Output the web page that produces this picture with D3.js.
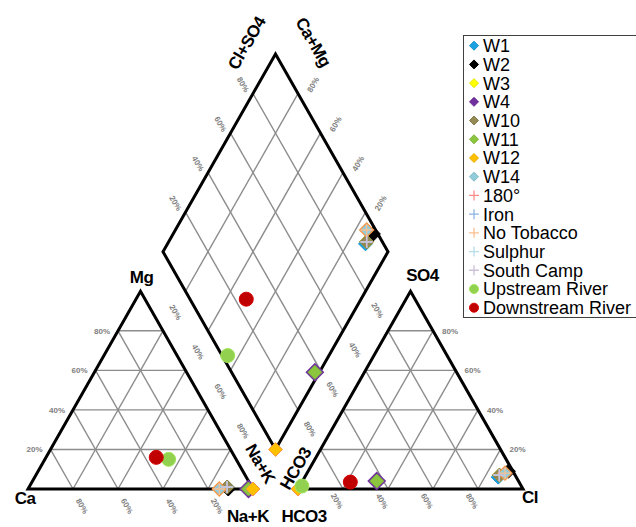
<!DOCTYPE html>
<html><head><meta charset="utf-8">
<script src="https://cdn.jsdelivr.net/npm/d3@7"></script>
<style>body{margin:0;background:#fff}svg{display:block}</style>
</head><body>
<svg id="c" width="636" height="527"></svg>
<script>
// ---- data (percent of meq) ----
const sampleNames = ["W1","W2","W3","W4","W10","W11","W12","W14","180°","Iron","No Tobacco","Sulphur","South Camp","Upstream River","Downstream River"];
const markerTypes = ["diamond","diamond","diamond","diamond","diamond","diamond","diamond","diamond","cross","cross","cross","cross","cross","circle","circle"];
const fillColors = ["#1ba1e2","#000000","#ffff00","#7030a0","#948a54","#8cc63f","#ffc000","#92cddc","#ff8b8b","#8db4e2","#fabf8f","#b7dee8","#ccc0da","#92d050","#c00000"];
const caPct   = [11, 11, 11,  2, 11,  2,   0, 15, 11, 11, 15, 11, 11, 30, 35];
const mgPct   = [ 1,  0,  1,  0,  1,  0,   0,  0,  1,  1,  0,  1,  1, 15, 16];
const naKPct  = [88, 89, 88, 98, 88, 98, 100, 85, 88, 88, 85, 88, 88, 55, 49];
const hco3Pct = [ 8,  2,  7, 63,  7, 63, 100,  4,  7,  7,  4,  7,  7, 97.5, 75];
const so4Pct  = [ 6,  9,  7,  4,  7,  4,   0,  8,  7,  7,  8,  7,  7, 1.5, 3.5];
const clPct   = [86, 89, 86, 33, 86, 33,   0, 88, 86, 86, 88, 86, 86, 1, 21.5];
const tickSteps = [20, 40, 60, 80];

// ---- geometry ----
const H = Math.sqrt(3)/2, GAP = 0.2;
const svg = d3.select("#c");
const x = d3.scaleLinear().domain([0, 2 + GAP]).range([28, 523]);
const y = d3.scaleLinear().domain([0, (2 + GAP) * H]).range([489, 54]);
const cat = (ca, mg, na) => [x(na + mg/2), y(mg*H)];
const an  = (hc, so, cl) => [x(1 + GAP + cl + so/2), y(so*H)];
const dia = (na, a) => [x(1 + GAP/2 + (a - (1 - na))/2), y(GAP*H + (a + (1 - na))*H)];
const line = d3.line();

const gGrid = svg.append("g").attr("stroke", "#8c8c8c").attr("stroke-width", 1.4).attr("fill", "none");
tickSteps.forEach(t => {
  const k = t/100;
  gGrid.append("path").attr("d", line([cat(1-k,k,0), cat(0,k,1-k)]));
  gGrid.append("path").attr("d", line([cat(k,0,1-k), cat(k,1-k,0)]));
  gGrid.append("path").attr("d", line([cat(1-k,0,k), cat(0,1-k,k)]));
  gGrid.append("path").attr("d", line([an(1-k,k,0), an(0,k,1-k)]));
  gGrid.append("path").attr("d", line([an(k,0,1-k), an(k,1-k,0)]));
  gGrid.append("path").attr("d", line([an(1-k,0,k), an(0,1-k,k)]));
  gGrid.append("path").attr("d", line([dia(k,0), dia(k,1)]));
  gGrid.append("path").attr("d", line([dia(0,k), dia(1,k)]));
});

const gOut = svg.append("g").attr("stroke", "#000").attr("stroke-width", 3).attr("fill", "none").attr("stroke-linejoin", "miter");
gOut.append("path").attr("d", line([cat(1,0,0), cat(0,0,1), cat(0,1,0)]) + "Z");
gOut.append("path").attr("d", line([an(1,0,0), an(0,0,1), an(0,1,0)]) + "Z");
gOut.append("path").attr("d", line([dia(0,0), dia(1,0), dia(1,1), dia(0,1)]) + "Z");

// ---- tick labels ----
const gT = svg.append("g").attr("font-family", "Liberation Sans, Arial, sans-serif").attr("font-size", 8)
  .attr("font-weight", "bold").attr("fill", "#808080");
function tl(p, dx, dy, txt, rot, anchor) {
  gT.append("text").attr("transform", `translate(${p[0]+dx},${p[1]+dy}) rotate(${rot})`)
    .attr("text-anchor", anchor || "middle").attr("dy", "0.35em").text(txt);
}
tickSteps.forEach(t => {
  const k = t/100;
  tl(cat(1-k,k,0), -8, 0, t + "%", 0, "end");          // Mg
  tl(cat(k,0,1-k), 9, 17, t + "%", 60);                  // Ca
  tl(an(0,k,1-k), 9, 0, t + "%", 0, "start");            // SO4
  tl(an(1-k,0,k), -6, 12, t + "%", 60);                  // Cl
  tl(dia(0,k), -10, -9, t + "%", 60);                    // Cl+SO4
  tl(dia(k,1), 15, -9, (100 - t) + "%", -60);            // Ca+Mg
  tl(dia(k,0), -10, 21, t + "%", 60);                    // Na+K
  tl(dia(1,k), 12, 19, (100 - t) + "%", 60);             // HCO3
});

// ---- axis titles ----
const gL = svg.append("g").attr("font-family", "Liberation Sans, Arial, sans-serif").attr("font-size", 17)
  .attr("font-weight", "bold").attr("fill", "#000").attr("text-anchor", "middle");
function ttl(p, dx, dy, txt, rot) {
  gL.append("text").attr("transform", `translate(${p[0]+dx},${p[1]+dy}) rotate(${rot||0})`)
    .attr("dy", "0.35em").attr("letter-spacing", "-0.5").text(txt);
}
ttl(cat(1,0,0), -3, 9, "Ca");
ttl(cat(0,1,0), 1, -14, "Mg");
ttl(cat(0,0,1), -5, 27, "Na+K");
ttl(an(1,0,0), 6, 27, "HCO3");
ttl(an(0,1,0), 12, -16, "SO4");
ttl(an(0,0,1), 7, 8, "Cl");
ttl(dia(0,1), -29, -11, "Cl+SO4", -60);
ttl(dia(0,1), 38, -12, "Ca+Mg", 60);
ttl(dia(1,0), -15, 14, "Na+K", 60);
ttl(dia(1,0), 20, 19, "HCO3", -60);

// ---- markers ----
function marker(g, type, px, py, i, r, inPlot) {
  const col = fillColors[i];
  if (type === "diamond") {
    let stroke = d3.color(col).darker(0.3).formatHex(), sw = 1;
    if (inPlot && sampleNames[i] === "W14") { stroke = "#f79646"; sw = 1.3; }
    if (inPlot && sampleNames[i] === "W12") { stroke = "#f79646"; sw = 1; }
    if (inPlot && sampleNames[i] === "W4") { sw = 3.5; stroke = col; }
    g.append("path").attr("d", `M${px},${py-r}L${px+r},${py}L${px},${py+r}L${px-r},${py}Z`)
      .attr("fill", col).attr("stroke", stroke).attr("stroke-width", sw);
  } else if (type === "cross") {
    g.append("path").attr("d", `M${px-r},${py}H${px+r}M${px},${py-r}V${py+r}`)
      .attr("stroke", col).attr("stroke-width", 1.3).attr("fill", "none");
  } else {
    g.append("circle").attr("cx", px).attr("cy", py).attr("r", r)
      .attr("fill", col).attr("stroke", d3.color(col).brighter(0.3).formatHex()).attr("stroke-width", 1);
  }
}
const gM = svg.append("g");
sampleNames.forEach((n, i) => {
  const ca = caPct[i]/100, mg = mgPct[i]/100, na = naKPct[i]/100;
  const hc = hco3Pct[i]/100, so = so4Pct[i]/100, cl = clPct[i]/100;
  const t = markerTypes[i];
  const r = t === "diamond" ? 7 : (t === "cross" ? 6 : 7);
  [cat(ca,mg,na), an(hc,so,cl), dia(na, so+cl)].forEach(p => marker(gM, t, p[0], p[1], i, r, true));
});

// ---- legend ----
const legY = d3.scaleLinear().domain([0, sampleNames.length - 1]).range([45.7, 307.7]);
const gLeg = svg.append("g");
gLeg.append("rect").attr("x", 463.5).attr("y", 35.5).attr("width", 200).attr("height", 282)
  .attr("fill", "#fff").attr("stroke", "#404040").attr("stroke-width", 1);
sampleNames.forEach((n, i) => {
  const t = markerTypes[i];
  marker(gLeg, t, 474, legY(i), i, t === "cross" ? 5 : 4.5, false);
  gLeg.append("text").attr("x", 483).attr("y", legY(i)).attr("dy", "0.36em")
    .attr("font-family", "Liberation Sans, Arial, sans-serif").attr("font-size", 18).attr("fill", "#000").text(n);
});
</script>
</body></html>
